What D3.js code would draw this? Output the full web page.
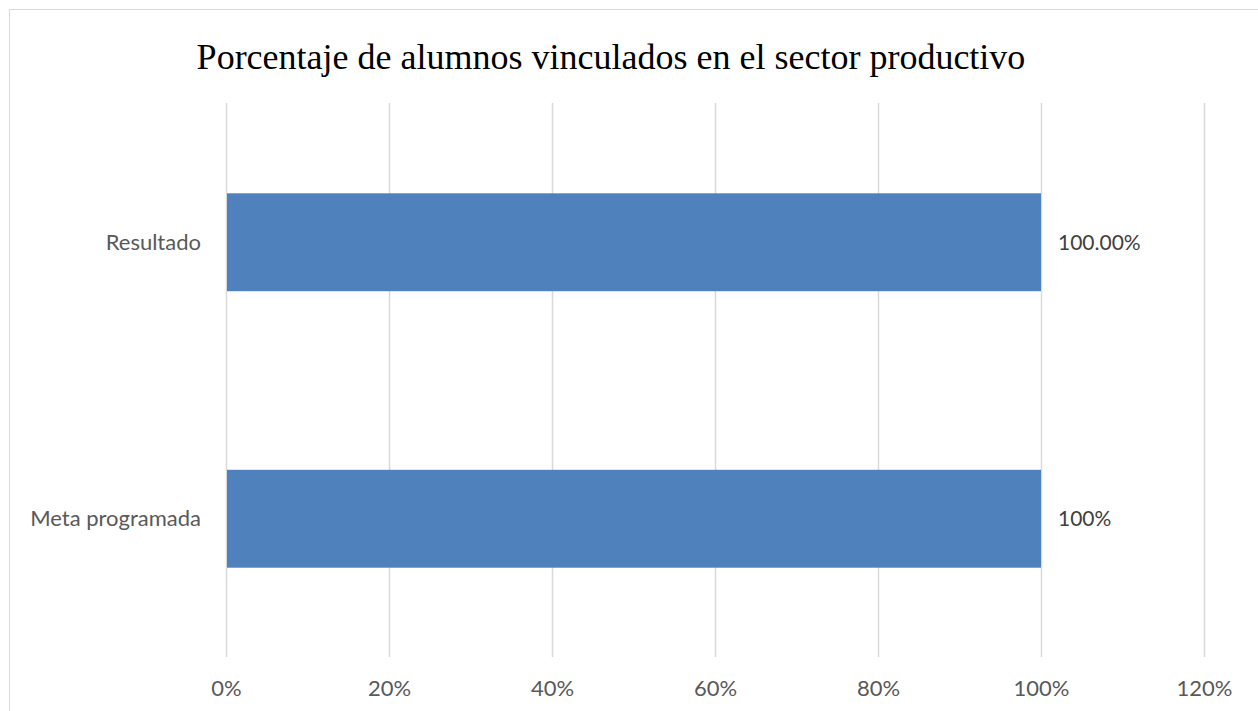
<!DOCTYPE html>
<html lang="es">
<head>
  <meta charset="UTF-8">
  <title>Porcentaje de alumnos vinculados</title>
  <script src="https://d3js.org/d3.v7.min.js"></script>
  <style>
    body { margin: 0; background: #fff; }
    svg { display: block; }
  </style>
</head>
<body>
  <div id="chart"></div>
  <script>
    // data, bottom to top as in the original sheet
    const categories = ["Meta programada", "Resultado"];
    const values = [1.0, 1.0];
    const valueLabels = ["100%", "100.00%"];
    const tickValues = [0, 0.2, 0.4, 0.6, 0.8, 1.0, 1.2];
    const titleText = "Porcentaje de alumnos vinculados en el sector productivo";

    const width = 1258;
    const height = 711;
    const margin = { top: 104, right: 54, bottom: 54, left: 226 };

    const svg = d3.select("#chart").append("svg")
      .attr("width", width)
      .attr("height", height);

    // chart frame (right/bottom run off the page like the original)
    svg.append("rect")
      .attr("x", 9.5).attr("y", 9.5)
      .attr("width", 1400).attr("height", 900)
      .attr("fill", "none")
      .attr("stroke", "#d9d9d9");

    const x = d3.scaleLinear()
      .domain([0, 1.2])
      .range([margin.left, width - margin.right]);

    const y = d3.scaleBand()
      .domain(categories.slice().reverse())
      .range([margin.top, height - margin.bottom])
      .paddingInner(0.646)
      .paddingOuter(0.323);

    // gridlines
    svg.append("g")
      .selectAll("line")
      .data(tickValues)
      .join("line")
      .attr("x1", d => Math.round(x(d)) + 0.5)
      .attr("x2", d => Math.round(x(d)) + 0.5)
      .attr("y1", margin.top - 1)
      .attr("y2", height - margin.bottom)
      .attr("stroke", "#d9d9d9")
      .attr("stroke-width", 1.5);

    // x axis labels
    const xAxis = d3.axisBottom(x)
      .tickValues(tickValues)
      .tickFormat(d3.format(".0%"))
      .tickSize(0)
      .tickPadding(0);

    const gx = svg.append("g")
      .attr("transform", `translate(0, ${height - margin.bottom + 23})`)
      .call(xAxis);
    gx.select(".domain").remove();
    gx.selectAll("text")
      .attr("dy", "0.71em")
      .style("font-family", "Lato, 'Noto Sans', sans-serif")
      .style("font-size", "22px")
      .style("fill", "#595959");

    // bars
    svg.append("g")
      .selectAll("rect")
      .data(categories)
      .join("rect")
      .attr("x", x(0) + 1)
      .attr("y", d => y(d))
      .attr("width", (d, i) => x(values[i]) - x(0) - 1)
      .attr("height", y.bandwidth())
      .attr("fill", "#4f81bd");

    // category labels
    svg.append("g")
      .selectAll("text")
      .data(categories)
      .join("text")
      .attr("x", margin.left - 25)
      .attr("y", d => y(d) + y.bandwidth() / 2)
      .attr("dy", "0.35em")
      .attr("text-anchor", "end")
      .style("font-family", "Lato, 'Noto Sans', sans-serif")
      .style("font-size", "22px")
      .style("fill", "#595959")
      .text(d => d);

    // value labels
    svg.append("g")
      .selectAll("text")
      .data(categories)
      .join("text")
      .attr("x", (d, i) => x(values[i]) + 17)
      .attr("y", d => y(d) + y.bandwidth() / 2)
      .attr("dy", "0.35em")
      .style("font-family", "Lato, 'Noto Sans', sans-serif")
      .style("font-size", "21px")
      .style("fill", "#404040")
      .text((d, i) => valueLabels[i]);

    // title
    svg.append("text")
      .attr("x", 611)
      .attr("y", 69)
      .attr("text-anchor", "middle")
      .style("font-family", "'Liberation Serif', 'Times New Roman', serif")
      .style("font-size", "36px")
      .style("fill", "#000")
      .text(titleText);
  </script>
</body>
</html>
